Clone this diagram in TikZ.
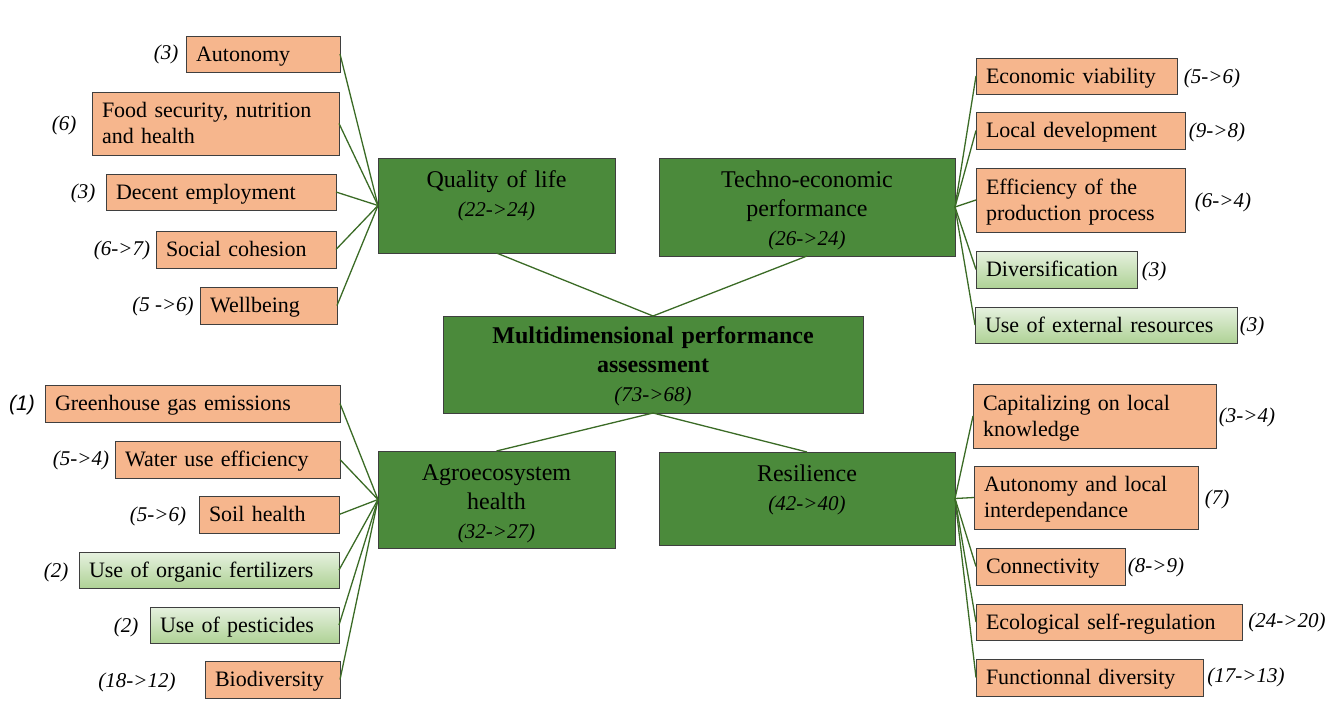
\documentclass[tikz,border=0pt]{standalone}
\usepackage{fontspec}
\setmainfont{Liberation Serif}
\setsansfont{Liberation Sans}
\usetikzlibrary{positioning}
\definecolor{salmon}{HTML}{F6B68D}
\definecolor{boxline}{HTML}{3F3F3F}
\definecolor{dimgreen}{HTML}{4B8A3B}
\definecolor{linkgreen}{HTML}{3B6B26}
\definecolor{palegreen}{HTML}{E6F1DF}
\definecolor{mossgreen}{HTML}{AFD296}
\newcommand{\dimscore}[1]{{\fontsize{21}{29}\selectfont\itshape #1}}

\begin{document}
\begin{tikzpicture}[x=1pt, y=-1pt,
  leaf/.style={draw=boxline, fill=salmon, line width=0.9pt, anchor=north west, outer sep=0pt,
    inner xsep=10pt, inner ysep=0pt, align=left, text height=18pt, text depth=4pt,
    font=\fontsize{22}{26}\selectfont},
  greenleaf/.style={leaf, top color=palegreen, bottom color=mossgreen},
  dimbox/.style={draw=boxline, fill=dimgreen, line width=0.9pt, anchor=north west, outer sep=0pt,
    inner sep=0pt, align=center, text height=29pt, font=\fontsize{24}{29}\selectfont},
  score/.style={inner sep=0pt, font=\fontsize{21}{25}\selectfont\itshape},
  link/.style={color=linkgreen, line width=1.3pt}]
\useasboundingbox (0,0) rectangle (1333,710);

% dimensions
\node[dimbox, text width=420pt, text height=27pt, text depth=70pt] (mpa) at (443,316)
  {\textbf{Multidimensional performance}\\\textbf{assessment}\\\dimscore{(73->68)}};
\node[dimbox, text width=237pt, text depth=66pt] (qol) at (378,158) {Quality of life\\\dimscore{(22->24)}};
\node[dimbox, text width=296pt, text depth=69pt] (tech) at (659,158) {Techno-economic\\performance\\\dimscore{(26->24)}};
\node[dimbox, text width=237pt, text depth=68pt] (agro) at (378,451) {Agroecosystem\\health\\\dimscore{(32->27)}};
\node[dimbox, text width=296pt, text depth=64pt] (resil) at (659,452) {Resilience\\\dimscore{(42->40)}};

% quality of life
\node[leaf, text width=134pt, minimum height=36pt] (auto) at (186,36) {Autonomy};
\node[leaf, text width=227pt, minimum height=63pt, text depth=30pt] (food) at (92,92) {Food security, nutrition\\and health};
\node[leaf, text width=210pt, minimum height=36pt] (decent) at (106,174) {Decent employment};
\node[leaf, text width=160pt, minimum height=37pt] (social) at (156,231) {Social cohesion};
\node[leaf, text width=117pt, minimum height=37pt] (wellb) at (200,287) {Wellbeing};
\node[score] (sauto) at (166,54) {(3)};
\node[score] (sfood) at (64,125) {(6)};
\node[score] (sdecent) at (83,193) {(3)};
\node[score] (ssocial) at (122,250) {(6->7)};
\node[score] (swellb) at (163,306) {(5 ->6)};

% agroecosystem health
\node[leaf, text width=275pt, minimum height=37pt] (ghg) at (45,385) {Greenhouse gas emissions};
\node[leaf, text width=205pt, minimum height=37pt] (water) at (115,441) {Water use efficiency};
\node[leaf, text width=120pt, minimum height=37pt] (soil) at (199,496) {Soil health};
\node[greenleaf, text width=240pt, minimum height=36pt] (orgfert) at (79,552) {Use of organic fertilizers};
\node[greenleaf, text width=169pt, minimum height=36pt] (pest) at (150,607) {Use of pesticides};
\node[leaf, text width=115pt, minimum height=37pt] (biodiv) at (205,661) {Biodiversity};
\node[score, font=\fontsize{21}{25}\selectfont\sffamily\itshape] (sghg) at (22,405) {(1)};
\node[score] (swater) at (81,460) {(5->4)};
\node[score] (ssoil) at (158,516) {(5->6)};
\node[score] (sorgfert) at (56,572) {(2)};
\node[score] (spest) at (126,627) {(2)};
\node[score] (sbiodiv) at (137,682) {(18->12)};

% techno-economic performance
\node[leaf, text width=181pt, minimum height=36pt] (econ) at (976,58) {Economic viability};
\node[leaf, text width=189pt, minimum height=37pt] (locdev) at (976,112) {Local development};
\node[leaf, text width=189pt, minimum height=64pt, text depth=30pt] (effic) at (976,168) {Efficiency of the\\production process};
\node[greenleaf, text width=141pt, minimum height=37pt] (divers) at (976,251) {Diversification};
\node[greenleaf, text width=242pt, minimum height=36pt] (extres) at (975,307) {Use of external resources};
\node[score] (secon) at (1212,78) {(5->6)};
\node[score] (slocdev) at (1217,132) {(9->8)};
\node[score] (seffic) at (1223,202) {(6->4)};
\node[score] (sdivers) at (1154,271) {(3)};
\node[score] (sextres) at (1252,326) {(3)};

% resilience
\node[leaf, text width=223pt, minimum height=64pt, text depth=30pt] (capit) at (973,384) {Capitalizing on local\\knowledge};
\node[leaf, text width=204pt, minimum height=63pt, text depth=30pt] (autloc) at (974,466) {Autonomy and local\\interdependance};
\node[leaf, text width=129pt, minimum height=37pt] (connec) at (976,548) {Connectivity};
\node[leaf, text width=246pt, minimum height=36pt] (ecoreg) at (976,604) {Ecological self-regulation};
\node[leaf, text width=207pt, minimum height=37pt] (funcdiv) at (976,659) {Functionnal diversity};
\node[score] (scapit) at (1247,417) {(3->4)};
\node[score] (sautloc) at (1217,499) {(7)};
\node[score] (sconnec) at (1156,567) {(8->9)};
\node[score] (secoreg) at (1287,622) {(24->20)};
\node[score] (sfuncdiv) at (1246,677) {(17->13)};

\path[link] (mpa.north) edge (qol.south)
            (mpa.north) edge (tech.south)
            (mpa.south) edge (agro.north)
            (mpa.south) edge (resil.north)
            (qol.west) edge (auto.east)
            (qol.west) edge (food.east)
            (qol.west) edge (decent.east)
            (qol.west) edge (social.east)
            (qol.west) edge (wellb.east)
            (agro.west) edge (ghg.east)
            (agro.west) edge (water.east)
            (agro.west) edge (soil.east)
            (agro.west) edge (orgfert.east)
            (agro.west) edge (pest.east)
            (agro.west) edge (biodiv.east)
            (tech.east) edge (econ.west)
            (tech.east) edge (locdev.west)
            (tech.east) edge (effic.west)
            (tech.east) edge (divers.west)
            (tech.east) edge (extres.west)
            (resil.east) edge (capit.west)
            (resil.east) edge (autloc.west)
            (resil.east) edge (connec.west)
            (resil.east) edge (ecoreg.west)
            (resil.east) edge (funcdiv.west);
\end{tikzpicture}
\end{document}
